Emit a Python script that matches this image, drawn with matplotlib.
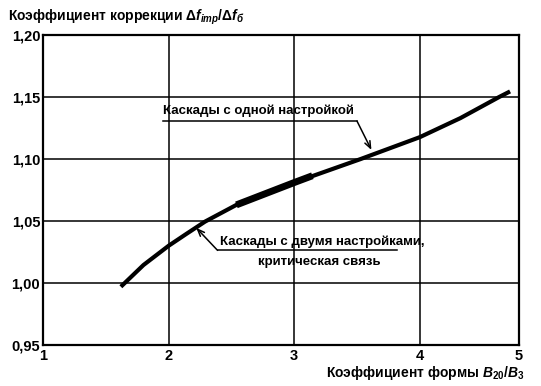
import numpy as np
import matplotlib
matplotlib.use("Agg")
import matplotlib.pyplot as plt
from matplotlib.ticker import FuncFormatter, NullLocator

plt.rcParams['font.family'] = ['Liberation Sans', 'DejaVu Sans']
plt.rcParams['font.weight'] = 'bold'
plt.rcParams['mathtext.fontset'] = 'custom'
plt.rcParams['mathtext.rm'] = 'Liberation Sans:bold'
plt.rcParams['mathtext.it'] = 'Liberation Sans:bold:italic'

# curve
shape_factor = [1.62, 1.80, 2.0, 2.14, 2.29, 2.54, 3.0, 3.53, 4.0, 4.41, 4.80, 4.91]
correction = [0.997, 1.0145, 1.030, 1.0395, 1.0495, 1.063, 1.081, 1.100, 1.1176, 1.133, 1.150, 1.1545]
# bold overlapping piece
thick_x = [2.54, 3.0, 3.145]
thick_y = [1.063, 1.081, 1.0865]

x_ticks = [1, 2, 3, 4, 5]
y_ticks = [0.95, 1.00, 1.05, 1.10, 1.15, 1.20]

# the scanned original squeezes the last interval 4..5
k = 0.79
def fwd(x):
    x = np.asarray(x, dtype=float)
    return np.where(x <= 4, x, 4 + (x - 4) * k)
def inv(x):
    x = np.asarray(x, dtype=float)
    return np.where(x <= 4, x, 4 + (x - 4) / k)

fig = plt.figure(figsize=(5.41, 3.86), dpi=100)
ax = fig.add_axes([43 / 541, 41 / 386, 476 / 541, 310 / 386])
ax.set_xscale('function', functions=(fwd, inv))
ax.set_xlim(1, 5)
ax.set_ylim(0.95, 1.20)
ax.set_xticks(x_ticks)
ax.set_yticks(y_ticks)
ax.xaxis.set_major_formatter(FuncFormatter(lambda v, p: f"{v:g}"))
ax.yaxis.set_major_formatter(FuncFormatter(lambda v, p: f"{v:.2f}".replace('.', ',')))
ax.xaxis.set_minor_locator(NullLocator())
ax.tick_params(length=0, labelsize=10.5, pad=3)
ax.tick_params(axis='y', pad=2)
ax.grid(True, color='black', lw=1.1)
for s in ax.spines.values():
    s.set_linewidth(1.6)

ax.plot(shape_factor, correction, color='black', lw=3.0, solid_capstyle='butt', zorder=3)
ax.plot(thick_x, thick_y, color='black', lw=5.0, solid_capstyle='butt', zorder=3)

arrow = dict(arrowstyle='->,head_length=0.5,head_width=0.2', color='black', lw=1.1,
             shrinkA=0, shrinkB=0)

# annotation 1
ax.text(1.952, 1.1335, 'Каскады с одной настройкой', fontsize=9.5, ha='left', va='bottom')
ax.plot([1.952, 3.5], [1.1306, 1.1306], color='black', lw=1.1)
ax.annotate('', xy=(3.615, 1.1073), xytext=(3.5, 1.1306), arrowprops=arrow)

# annotation 2
ax.text(2.41, 1.0285, 'Каскады с двумя настройками,', fontsize=9.5, ha='left', va='bottom')
ax.text(3.198, 1.017, 'критическая связь', fontsize=9.5, ha='center', va='center')
ax.plot([2.39, 3.817], [1.0263, 1.0263], color='black', lw=1.1)
ax.annotate('', xy=(2.22, 1.0445), xytext=(2.39, 1.0263), arrowprops=arrow)

fig.text(8 / 541, 1 - 17 / 386, r'Коэффициент коррекции $\Delta f_{imp}/\Delta f_{б}$',
         fontsize=10, ha='left', va='center')
fig.text(525 / 541, 1 - 373 / 386, r'Коэффициент формы $B_{20}/B_3$',
         fontsize=10, ha='right', va='center')

fig.savefig('out.png', dpi=100)
